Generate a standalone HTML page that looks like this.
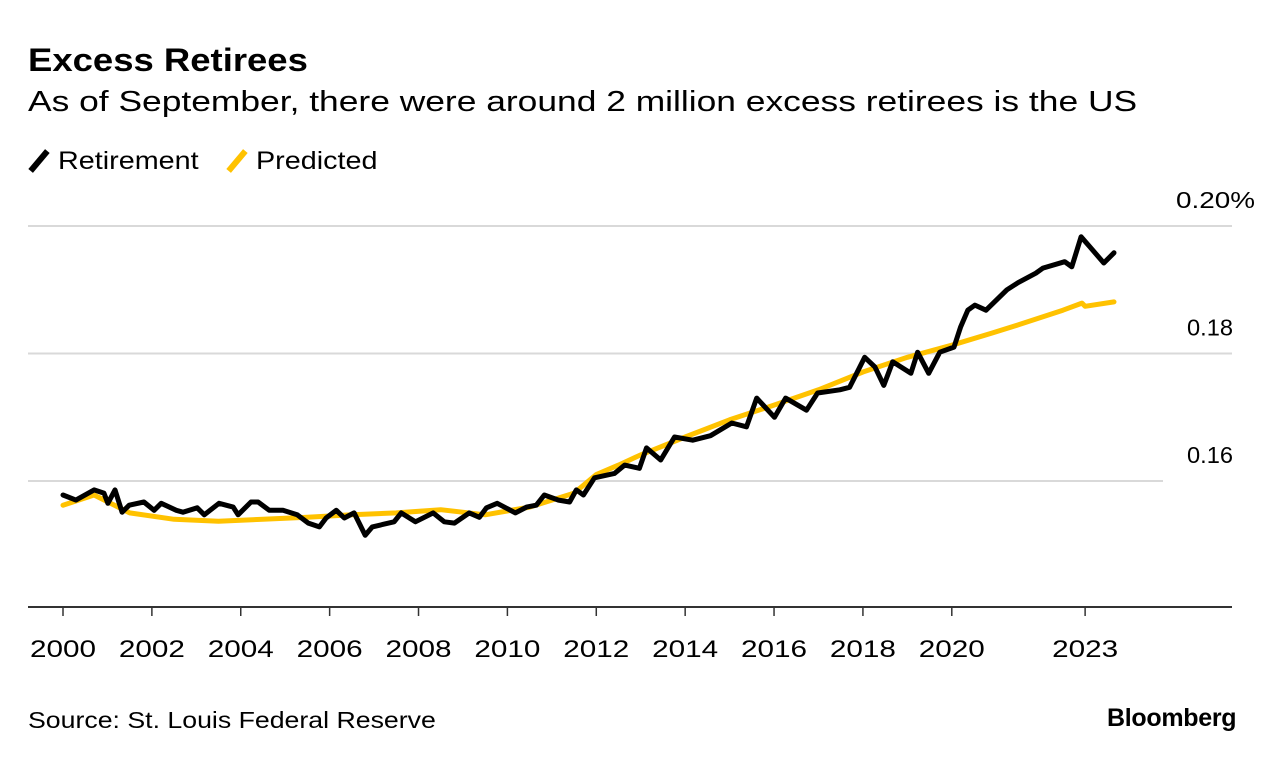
<!DOCTYPE html>
<html><head><meta charset="utf-8"><style>
body{margin:0;background:#fff;font-family:"Liberation Sans",Arial,sans-serif;}
#wrap{position:relative;width:1285px;height:764px;overflow:hidden;}
.t{position:absolute;white-space:nowrap;color:#000;transform-origin:0 0;}
</style></head><body>
<div id="wrap">
<div class="t" style="left:28px;top:42px;font-size:32px;font-weight:bold;transform:scaleX(1.14);">Excess Retirees</div>
<div class="t" style="left:28px;top:86px;font-size:29px;transform:scaleX(1.22);">As of September, there were around 2 million excess retirees is the US</div>
<div class="t" style="left:28px;top:147px;font-size:25px;"><span style="display:inline-block;width:6px;height:26px;background:#000;transform:rotate(40deg);vertical-align:-5px;margin:0 16px 0 8px;"></span><span style="display:inline-block;transform:scaleX(1.15);transform-origin:0 0;">Retirement</span></div>
<div class="t" style="left:226px;top:147px;font-size:25px;"><span style="display:inline-block;width:6px;height:26px;background:#ffc200;transform:rotate(40deg);vertical-align:-5px;margin:0 16px 0 8px;"></span><span style="display:inline-block;transform:scaleX(1.15);transform-origin:0 0;">Predicted</span></div>
<svg id="chart" width="1285" height="764" style="position:absolute;left:0;top:0"></svg>
<div class="t" style="left:28px;top:707px;font-size:23px;transform:scaleX(1.16);">Source: St. Louis Federal Reserve</div>
<div class="t" style="left:1107px;top:704px;font-size:25px;font-weight:bold;letter-spacing:-0.3px;">Bloomberg</div>
</div>
<script>
const retYears=[2000.0,2000.29,2000.70,2000.92,2001.01,2001.17,2001.33,2001.49,2001.82,2002.05,2002.21,2002.55,2002.70,2003.02,2003.18,2003.51,2003.83,2003.94,2004.23,2004.39,2004.64,2004.95,2005.27,2005.52,2005.77,2005.92,2006.15,2006.33,2006.55,2006.80,2006.96,2007.45,2007.61,2007.93,2008.33,2008.58,2008.81,2009.14,2009.37,2009.53,2009.77,2010.18,2010.43,2010.65,2010.83,2011.15,2011.40,2011.55,2011.71,2011.96,2012.41,2012.64,2012.97,2013.13,2013.45,2013.76,2014.17,2014.57,2015.05,2015.38,2015.61,2016.01,2016.26,2016.73,2016.98,2017.48,2017.70,2018.04,2018.27,2018.47,2018.67,2019.08,2019.23,2019.48,2019.73,2020.05,2020.20,2020.36,2020.52,2020.77,2021.24,2021.49,2021.89,2022.05,2022.54,2022.70,2022.91,2023.11,2023.42,2023.65];
const retValues=[0.1578,0.1570,0.1586,0.1581,0.1565,0.1586,0.1551,0.1562,0.1567,0.1554,0.1565,0.1554,0.1551,0.1558,0.1547,0.1565,0.1559,0.1547,0.1567,0.1567,0.1554,0.1554,0.1547,0.1534,0.1528,0.1542,0.1554,0.1542,0.1550,0.1515,0.1528,0.1536,0.1550,0.1536,0.1550,0.1536,0.1534,0.1550,0.1543,0.1558,0.1565,0.1550,0.1559,0.1562,0.1578,0.1570,0.1567,0.1586,0.1578,0.1605,0.1612,0.1625,0.1620,0.1652,0.1633,0.1669,0.1664,0.1671,0.1691,0.1685,0.1730,0.1700,0.1730,0.1711,0.1738,0.1743,0.1747,0.1794,0.1779,0.1750,0.1787,0.1769,0.1802,0.1769,0.1802,0.1810,0.1842,0.1868,0.1876,0.1868,0.1900,0.1911,0.1926,0.1934,0.1944,0.1936,0.1983,0.1967,0.1942,0.1958];
const predYears=[2000.0,2000.7,2001.5,2002.5,2003.5,2004.5,2005.5,2006.5,2007.5,2008.5,2009.5,2010.5,2011.5,2012.0,2012.5,2013.0,2014.0,2015.0,2016.0,2017.0,2018.0,2019.0,2020.0,2020.9,2021.5,2022.5,2022.93,2023.0,2023.65];
const predValues=[0.1562,0.1578,0.1550,0.1540,0.1537,0.1540,0.1543,0.1547,0.1550,0.1555,0.1547,0.1559,0.1581,0.1610,0.1625,0.1641,0.1669,0.1696,0.1719,0.1743,0.1771,0.1794,0.1813,0.1832,0.1845,0.1868,0.1879,0.1874,0.1881];
const yTicks=[0.16,0.18,0.20];
const yTickLabels=["0.16","0.18","0.20%"];
const xTicks=[2000,2002,2004,2006,2008,2010,2012,2014,2016,2018,2020,2023];
const xTickLabels=["2000","2002","2004","2006","2008","2010","2012","2014","2016","2018","2020","2023"];

const svg=document.getElementById('chart');
const NS='http://www.w3.org/2000/svg';
function xs(yr){return 63+(yr-2000)*44.44;}
function ys(v){return 608.5-(v-0.14)*6375;}
function mk(tag,attrs){const e=document.createElementNS(NS,tag);for(const k in attrs)e.setAttribute(k,attrs[k]);svg.appendChild(e);return e;}
yTicks.forEach((v,i)=>{
  const l=mk('line',{x1:28,x2:(i===0?1163:1232),y1:ys(v),y2:ys(v),stroke:'#d9d9d9','stroke-width':2});
  
  
  const t=mk('text',{x:(i===2?1176:1187),y:ys(v)-18,'font-size':23,'font-family':'Liberation Sans, sans-serif',fill:'#000',textLength:(i===2?79:46),lengthAdjust:'spacingAndGlyphs'});
  t.textContent=yTickLabels[i];
  
  
});
const base=mk('line',{x1:28,x2:1232,y1:607,y2:607,stroke:'#333','stroke-width':2});


xTicks.forEach((yr,i)=>{
  const tk=mk('line',{x1:xs(yr),x2:xs(yr),y1:607,y2:616,stroke:'#333','stroke-width':1.5});
  
  
  const t=mk('text',{x:xs(yr),y:657,'font-size':24,'text-anchor':'middle','font-family':'Liberation Sans, sans-serif',fill:'#000',textLength:66,lengthAdjust:'spacingAndGlyphs'});
  t.textContent=xTickLabels[i];
  
  
});
function line(xsA,vs,color,name){
  const d=xsA.map((yr,i)=>(i?'L':'M')+xs(yr).toFixed(1)+' '+ys(vs[i]).toFixed(1)).join(' ');
  const p=mk('path',{d:d,fill:'none',stroke:color,'stroke-width':5,'stroke-linejoin':'round','stroke-linecap':'round'});
  
  
}
line(predYears,predValues,'#ffc200','predicted-line');
line(retYears,retValues,'#000','retirement-line');
</script>
</body></html>
